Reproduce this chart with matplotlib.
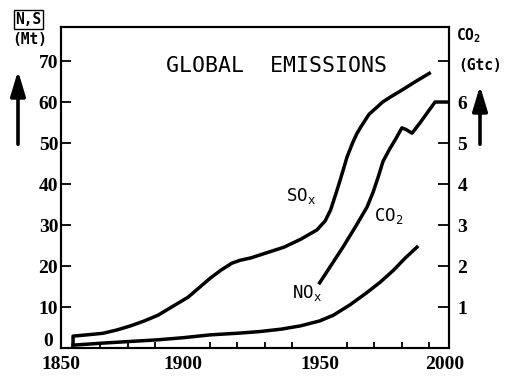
import matplotlib.pyplot as plt
from matplotlib.patches import FancyArrowPatch

# data (SOx, NOx in Mt; CO2 in Gtc)
so_years = [1860, 1860, 1865, 1871, 1876, 1881, 1886, 1891, 1896, 1902, 1906, 1910, 1914, 1918,
            1921, 1925, 1931, 1937, 1943, 1949, 1952, 1954, 1956, 1957.5, 1960, 1962, 1963.5,
            1965, 1968, 1973, 1976, 1980, 1985, 1990]
so_vals = [0, 2.9, 3.2, 3.6, 4.4, 5.4, 6.6, 8.0, 10.0, 12.4, 14.7, 17.0, 19.0, 20.7,
           21.4, 22.0, 23.3, 24.6, 26.5, 28.8, 31.0, 33.7, 37.8, 41.0, 46.6, 50.0, 52.2,
           53.9, 57.0, 60.0, 61.3, 62.9, 65.0, 67.0]

no_years = [1860, 1871, 1881, 1891, 1900, 1910, 1920, 1928, 1936, 1943, 1950, 1955, 1961,
            1967, 1972, 1977, 1981, 1985.5]
no_vals = [0.7, 1.2, 1.6, 2.0, 2.5, 3.2, 3.6, 4.0, 4.6, 5.4, 6.6, 8.0, 10.5,
           13.4, 16.0, 19.0, 21.8, 24.6]

co2_years = [1950, 1954, 1958.5, 1963, 1967.3, 1969.5, 1971.5, 1973.1, 1975.5, 1977.5, 1980,
             1981.5, 1983.7, 1986.6, 1992.1, 1997.2]
co2_vals = [1.59, 2.0, 2.46, 2.95, 3.44, 3.8, 4.2, 4.55, 4.85, 5.07, 5.37,
            5.33, 5.24, 5.49, 6.0, 6.0]

left_ticks = [0, 10, 20, 30, 40, 50, 60, 70]
left_labels = ['', '10', '20', '30', '40', '50', '60', '70']
right_ticks = [1, 2, 3, 4, 5, 6, 7]
right_labels = ['1', '2', '3', '4', '5', '6', '']
x_labels = ['1850', '1900', '1950', '2000']
decades = list(range(1860, 2000, 10))

W, H = 510, 378
serif = ['Liberation Serif', 'DejaVu Serif']
mono = ['DejaVu Sans Mono']


def px(x, y):
    return x / W, 1 - y / H


fig = plt.figure(figsize=(5.1, 3.78), dpi=100)
ax = fig.add_axes([61 / W, 1 - 348 / H, (449 - 61) / W, (348 - 27) / H])
ax2 = ax.twinx()

xmin, xmax = 1855.6, 1997.2
ax.set_xlim(xmin, xmax)
ax.set_ylim(0, 78.3)
ax2.set_ylim(0, 7.83)

lw = 2.5
ax.plot(so_years, so_vals, color='black', lw=lw, solid_joinstyle='round')
ax.plot(no_years, no_vals, color='black', lw=lw, solid_joinstyle='round')
ax2.plot(co2_years, co2_vals, color='black', lw=lw, solid_joinstyle='round')

for a in (ax, ax2):
    for s in a.spines.values():
        s.set_linewidth(1.5)

# x axis: labels at ends of the frame, decade ticks inside
ax.set_xticks([xmin, 1900, 1950, 1995.7])
ax.set_xticklabels(x_labels, fontfamily=serif, fontweight='bold', fontsize=14)
ax.tick_params(axis='x', which='major', length=0, pad=6)
ax.set_xticks(decades, minor=True)
ax.tick_params(axis='x', which='minor', direction='in', length=4, width=1.3)

ax.set_yticks(left_ticks)
ax.set_yticklabels(left_labels, fontfamily=serif, fontweight='bold', fontsize=14)
ax.tick_params(axis='y', direction='in', length=7, width=1.3, pad=2)
# the zero sits a little above the year labels
fig.text(*px(48, 342), '0', family=serif, fontweight='bold', fontsize=14, ha='center', va='center')

ax2.set_yticks(right_ticks)
ax2.set_yticklabels(right_labels, fontfamily=serif, fontweight='bold', fontsize=14)
ax2.tick_params(axis='y', direction='in', length=8, width=1.3, pad=6)

# texts
fig.text(*px(277, 66), 'GLOBAL  EMISSIONS', family=mono, fontsize=15.5, ha='center', va='center')
fig.text(*px(286, 196), r'SO$_\mathregular{x}$', family=mono, fontsize=12.5, ha='left', va='center')
fig.text(*px(374, 216), r'CO$_\mathregular{2}$', family=mono, fontsize=12.5, ha='left', va='center')
fig.text(*px(292, 293), r'NO$_\mathregular{x}$', family=mono, fontsize=12.5, ha='left', va='center')

fig.text(*px(28.5, 19.5), 'N,S', family=mono, fontweight='bold', fontsize=10.5, ha='center', va='center',
         bbox=dict(boxstyle='square,pad=0.12', fc='white', ec='black', lw=1))
fig.text(*px(30, 40), '(Mt)', family=mono, fontweight='bold', fontsize=10.5, ha='center', va='center')
fig.text(*px(469, 36), r'CO$_\mathregular{2}$', family=mono, fontweight='bold', fontsize=10.5, ha='center', va='center')
fig.text(*px(480, 66), '(Gtc)', family=mono, fontweight='bold', fontsize=10.5, ha='center', va='center')

for x, y0, y1 in [(18, 147, 68), (480, 147, 83)]:
    arr = FancyArrowPatch(px(x, y0), px(x, y1), transform=fig.transFigure,
                          arrowstyle='-|>,head_length=1.5,head_width=0.45', mutation_scale=10,
                          lw=2.6, color='black')
    fig.add_artist(arr)

fig.savefig('out.png', dpi=100)
